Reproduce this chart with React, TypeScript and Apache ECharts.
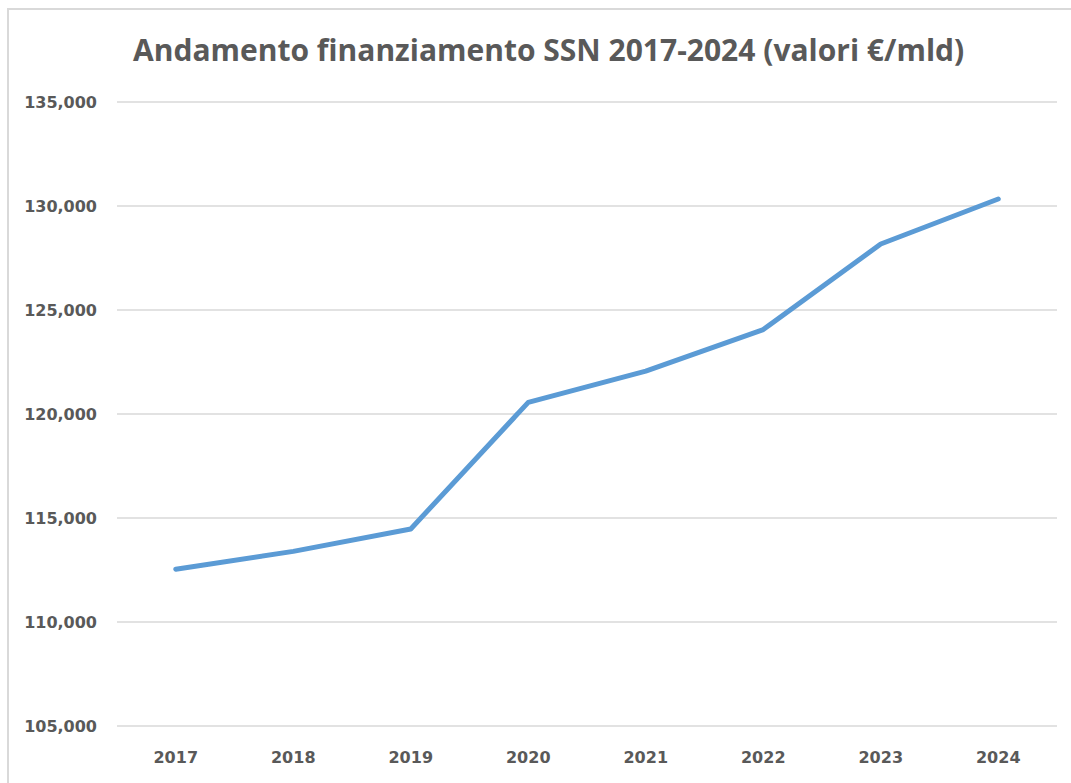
import React, { useEffect, useRef } from "react";
import * as echarts from "echarts";

const years = ["2017", "2018", "2019", "2020", "2021", "2022", "2023", "2024"];
const funding = [112540, 113396, 114474, 120557, 122061, 124061, 128172, 130338];
const yTicks = { min: 105000, max: 135000, interval: 5000 };
const titleText = "Andamento finanziamento SSN 2017-2024 (valori €/mld)";

export default function App() {
  const ref = useRef<HTMLDivElement>(null);
  useEffect(() => {
    if (!ref.current) return;
    const chart = echarts.init(ref.current, null, { renderer: "svg" });
    chart.setOption({
      animation: false,
      backgroundColor: "#ffffff",
      title: {
        text: titleText,
        left: 119,
        top: 19,
        textStyle: {
          fontFamily: "Open Sans",
          fontWeight: "bold",
          fontSize: 30,
          color: "#595959",
        },
      },
      grid: { left: 108, right: 14, top: 92, bottom: 57 },
      xAxis: {
        type: "category",
        data: years,
        boundaryGap: true,
        axisLine: { show: false },
        axisTick: { show: false },
        axisLabel: {
          margin: 23,
          fontFamily: "DejaVu Sans",
          fontWeight: "bold",
          fontSize: 16,
          color: "#595959",
        },
      },
      yAxis: {
        type: "value",
        min: yTicks.min,
        max: yTicks.max,
        interval: yTicks.interval,
        axisLine: { show: false },
        axisTick: { show: false },
        splitLine: { lineStyle: { color: "#d9d9d9", width: 1.5 } },
        axisLabel: {
          margin: 20,
          fontFamily: "DejaVu Sans",
          fontWeight: "bold",
          fontSize: 16,
          color: "#595959",
          formatter: (v: number) => v.toLocaleString("en-US"),
        },
      },
      series: [
        {
          type: "line",
          data: funding,
          symbol: "none",
          lineStyle: { color: "#5b9bd5", width: 5, cap: "round", join: "round" },
        },
      ],
    });
    return () => chart.dispose();
  }, []);
  return (
    <div
      style={{
        position: "fixed",
        left: 7,
        top: 8,
        width: 1064,
        height: 775,
        borderTop: "2px solid #d9d9d9",
        borderLeft: "2px solid #d9d9d9",
        boxSizing: "border-box",
        overflow: "hidden",
      }}
    >
      <div ref={ref} style={{ width: 1062, height: 773 }} />
    </div>
  );
}
